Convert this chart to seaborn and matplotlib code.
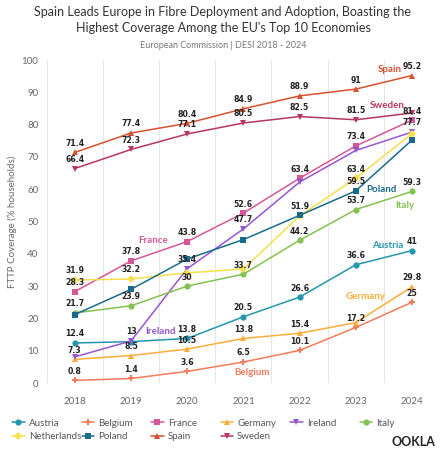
import pandas as pd
import matplotlib
matplotlib.use('Agg')
import matplotlib.pyplot as plt
import seaborn as sns

# Dane: pokrycie FTTP (% gospodarstw), DESI 2018-2024
years = [2018, 2019, 2020, 2021, 2022, 2023, 2024]
austria = [12.4, 12.8, 13.8, 20.5, 26.6, 36.6, 41]
belgium = [0.8, 1.4, 3.6, 6.5, 10.1, 17.2, 25]
france = [28.3, 37.8, 43.8, 52.6, 63.4, 73.4, 81.4]
germany = [7.3, 8.5, 10.5, 13.8, 15.4, 18.7, 29.8]
ireland = [8.1, 13, 35.4, 47.7, 62.2, 72.0, 77.7]
italy = [21.7, 23.9, 30, 33.7, 44.2, 53.7, 59.3]
netherlands = [31.9, 32.2, 34.1, 35.3, 51.7, 63.4, 77.2]
poland = [21.2, 29.0, 38.4, 44.4, 51.9, 59.5, 75.2]
spain = [71.4, 77.4, 80.4, 84.9, 88.9, 91, 95.2]
sweden = [66.4, 72.3, 77.1, 80.5, 82.5, 81.5, 83.6]

countries = ['Austria', 'Belgium', 'France', 'Germany', 'Ireland', 'Italy',
             'Netherlands', 'Poland', 'Spain', 'Sweden']
series = [austria, belgium, france, germany, ireland, italy,
          netherlands, poland, spain, sweden]

# etykiety, ktore na oryginale sa zasloniete
hidden = {('Austria', 2019), ('Germany', 2023), ('Ireland', 2018), ('Ireland', 2022),
          ('Ireland', 2023), ('Netherlands', 2020), ('Netherlands', 2021),
          ('Netherlands', 2022), ('Netherlands', 2024), ('Poland', 2018),
          ('Poland', 2019), ('Poland', 2020), ('Poland', 2021), ('Poland', 2024),
          ('Sweden', 2024)}

colors = {
    'Austria': '#2596b0', 'Belgium': '#f47c5a', 'France': '#d6569a',
    'Germany': '#fbae3c', 'Ireland': '#9656cf', 'Italy': '#84c151',
    'Netherlands': '#f6e04b', 'Poland': '#1a6a8a', 'Spain': '#d8502f',
    'Sweden': '#b7375f',
}
markers = {
    'Austria': 'o', 'Belgium': 'P', 'France': 's', 'Germany': '^',
    'Ireland': 'v', 'Italy': 'o', 'Netherlands': 'D', 'Poland': 's',
    'Spain': '^', 'Sweden': 'v',
}

# nazwy krajow przy liniach (rok, wartosc)
name_pos = {
    'Spain': (2023.6, 97.1), 'Sweden': (2023.56, 86.0), 'Poland': (2023.46, 59.8),
    'Italy': (2023.88, 54.9), 'Austria': (2023.57, 42.6), 'Germany': (2023.17, 26.8),
    'Belgium': (2021.16, 3.2), 'Ireland': (2019.53, 15.9), 'France': (2019.4, 44.1),
}

rows = []
for c, vals in zip(countries, series):
    for y, v in zip(years, vals):
        rows.append({'Rok': y, 'Kraj': c, 'Pokrycie': v})
df = pd.DataFrame(rows)

sns.set_style('white')
plt.rcParams['font.family'] = ['Lato', 'DejaVu Sans']

fig = plt.figure(figsize=(4.46, 4.53), dpi=100)
ax = fig.add_axes([0.1047, 0.1545, 0.882, 0.713])

sns.lineplot(data=df, x='Rok', y='Pokrycie', hue='Kraj', style='Kraj',
             hue_order=countries, style_order=countries,
             palette=colors, markers=markers, dashes=False,
             markersize=4.5, markeredgewidth=0, linewidth=1.1, ax=ax)

for c, vals in zip(countries, series):
    for y, v in zip(years, vals):
        if (c, y) in hidden:
            continue
        ax.annotate(f'{v:g}', (y, v), xytext=(0, 3.3), textcoords='offset points',
                    ha='center', va='bottom', fontsize=5.6, fontweight='bold',
                    color='#222222', family=['DejaVu Sans'])

for c, (x, y) in name_pos.items():
    ax.text(x, y, c, color=colors[c], fontsize=7, fontweight='bold',
            ha='center', va='center')

ax.set_xlim(2017.5, 2024.5)
ax.set_ylim(0, 100)
ax.set_xticks(years)
ax.set_xticks([y + 0.5 for y in years[:-1]] + [2017.5], minor=True)
ax.set_yticks(range(0, 101, 10))
ax.grid(False)
ax.grid(True, which='minor', axis='x', color='#e6e6e6', linewidth=0.8)
ax.tick_params(axis='both', which='both', length=0, labelsize=7, labelcolor='#666666')
ax.tick_params(axis='x', pad=10)
ax.tick_params(axis='y', pad=6)
for s in ax.spines.values():
    s.set_visible(False)
ax.set_xlabel('')
ax.set_ylabel('FTTP Coverage (% households)', fontsize=7, color='#666666', labelpad=3)

# legenda: 6 kolumn o rownej szerokosci
handles, labels = ax.get_legend_handles_labels()
ax.get_legend().remove()
hmap = dict(zip(labels, handles))
columns = [['Austria', 'Netherlands'], ['Belgium', 'Poland'], ['France', 'Spain'],
           ['Germany', 'Sweden'], ['Ireland'], ['Italy']]
for i, col in enumerate(columns):
    leg = fig.legend([hmap[k] for k in col], col, loc='upper left',
                     bbox_to_anchor=(0.012 + i * 0.1558, 0.091), frameon=False,
                     fontsize=7, handlelength=1.3, handletextpad=0.4,
                     labelspacing=0.45, borderpad=0.2)
    for t in leg.get_texts():
        t.set_color('#555555')

fig.text(0.5, 1 - 12.5 / 453, "Spain Leads Europe in Fibre Deployment and Adoption, Boasting the",
         ha='center', va='center', fontsize=9, color='#333333')
fig.text(0.5, 1 - 28.5 / 453, "Highest Coverage Among the EU's Top 10 Economies",
         ha='center', va='center', fontsize=9, color='#333333')
fig.text(0.5, 1 - 46 / 453, 'European Commission | DESI 2018 - 2024', ha='center',
         va='center', fontsize=6.5, color='#777777')
fig.text(0.975, 0.012, 'OOKLA', ha='right', va='bottom', fontsize=9,
         color='#222222', fontweight='bold')

fig.savefig('out.png', dpi=100)
